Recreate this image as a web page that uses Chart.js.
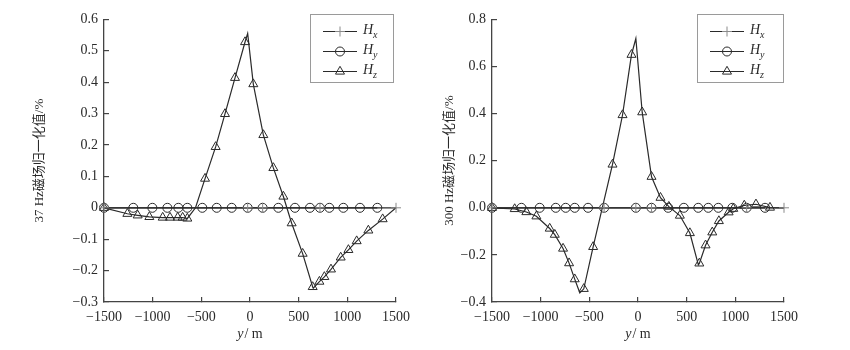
<!DOCTYPE html>
<html><head><meta charset="utf-8">
<script src="https://cdn.jsdelivr.net/npm/chart.js@4/dist/chart.umd.min.js"></script>
<style>
body{margin:0;background:#fff;width:850px;height:350px;overflow:hidden;position:relative}
.c{position:absolute;top:0;width:425px;height:350px}
</style></head><body>
<div class="c" style="left:0"><canvas id="c1" width="425" height="350"></canvas></div>
<div class="c" style="left:425px"><canvas id="c2" width="425" height="350"></canvas></div>
<script>
// ---------- data ----------
const xTickValues = [-1500, -1000, -500, 0, 500, 1000, 1500];
const seriesNames = ['x', 'y', 'z']; // H_x, H_y, H_z

// 37 Hz (left)
const leftTitle = '37 Hz磁场归一化值/%';
const leftYTicks = [-0.3, -0.2, -0.1, 0, 0.1, 0.2, 0.3, 0.4, 0.5, 0.6];
const leftHxX = [-1500, -24, 130, 719, 1500];
const leftHxY = [0, 0, 0, 0, 0];
const leftHyX = [-1500, -1199, -1003, -849, -736, -644, -490, -342, -188, -24, 130, 291, 462, 616, 719, 815, 959, 1130, 1308];
const leftHyY = [0, 0, 0, 0, 0, 0, 0, 0, 0, 0, 0, 0, 0, 0, 0, 0, 0, 0, 0];
const leftHzX = [-1500, -1260, -1154, -1034, -897, -822, -743, -692, -644, -462, -353, -257, -154, -51, 34, 137, 240, 343, 428, 541, 644, 713, 764, 832, 932, 1011, 1096, 1216, 1363];
const leftHzY = [0, -0.019, -0.024, -0.029, -0.031, -0.031, -0.031, -0.031, -0.034, 0.093, 0.194, 0.299, 0.414, 0.528, 0.394, 0.232, 0.127, 0.036, -0.049, -0.146, -0.252, -0.235, -0.220, -0.196, -0.158, -0.134, -0.106, -0.072, -0.036];
const leftHzCurveX = [-560, -24, 650, 1500];   // unmarked turning points of the curve
const leftHzCurveY = [0.0, 0.555, -0.256, 0];

// 300 Hz (right)
const rightTitle = '300 Hz磁场归一化值/%';
const rightYTicks = [-0.4, -0.2, 0, 0.2, 0.4, 0.6, 0.8];
const rightHxX = [-1500, -348, -22, 139, 1116, 1500];
const rightHxY = [0, 0, 0, 0, 0, 0];
const rightHyX = [-1500, -1198, -1010, -845, -743, -650, -513, -348, -22, 139, 310, 471, 619, 722, 825, 969, 1116, 1305];
const rightHyY = [0, 0, 0, 0, 0, 0, 0, 0, 0, 0, 0, 0, 0, 0, 0, 0, 0, 0];
const rightHzX = [-1500, -1267, -1147, -1044, -907, -855, -770, -708, -650, -557, -461, -262, -159, -67, 43, 139, 231, 317, 430, 533, 630, 694, 763, 831, 931, 979, 1092, 1212, 1356];
const rightHzY = [0, -0.005, -0.018, -0.036, -0.088, -0.114, -0.173, -0.235, -0.303, -0.344, -0.166, 0.184, 0.394, 0.650, 0.406, 0.132, 0.043, 0.005, -0.033, -0.107, -0.236, -0.159, -0.104, -0.056, -0.019, -0.004, 0.010, 0.015, 0.001];
const rightHzCurveX = [-598, -22, 620, 1500];
const rightHzCurveY = [-0.361, 0.719, -0.242, 0];

// ---------- helpers ----------
const pts = (xs, ys) => xs.map((x, i) => ({x, y: ys[i]}));
const merged = (xs, ys, cx, cy) => pts(xs, ys).concat(pts(cx, cy)).sort((a, b) => a.x - b.x);
const minus = s => String(s).replace('-', '\u2212');
const SERIF = '"Liberation Serif", "Times New Roman", serif';
const INK = '#2a2a2a';

function drawMarker(ctx, style, x, y, r) {
  ctx.beginPath();
  if (style === 'circle') {
    ctx.arc(x, y, r, 0, Math.PI * 2);
  } else if (style === 'triangle') {
    ctx.moveTo(x, y - r);
    ctx.lineTo(x + r * Math.sin(Math.PI * 2 / 3), y - r * Math.cos(Math.PI * 2 / 3));
    ctx.lineTo(x + r * Math.sin(Math.PI * 4 / 3), y - r * Math.cos(Math.PI * 4 / 3));
    ctx.closePath();
  } else if (style === 'cross') {
    ctx.moveTo(x, y - r); ctx.lineTo(x, y + r);
    ctx.moveTo(x - r, y); ctx.lineTo(x + r, y);
  }
  ctx.stroke();
}

const decoPlugin = {
  id: 'deco',
  afterDraw(chart, args, opts) {
    const ctx = chart.ctx;
    const ca = chart.chartArea;
    ctx.save();
    // x-axis title: italic y / m
    ctx.fillStyle = INK;
    ctx.textBaseline = 'middle';
    const fi = 'italic 14px ' + SERIF, fr = '14px ' + SERIF;
    ctx.font = fi; const w1 = ctx.measureText('y').width;
    ctx.font = fr; const w2 = ctx.measureText('/ m').width;
    const cx = (ca.left + ca.right) / 2, ty = opts.titleY;
    let x0 = cx - (w1 + w2 + 1) / 2;
    ctx.font = fi; ctx.textAlign = 'left'; ctx.fillText('y', x0, ty);
    ctx.font = fr; ctx.fillText('/ m', x0 + w1 + 1, ty);
    // legend
    const b = opts.box;
    ctx.fillStyle = '#fff';
    ctx.fillRect(b.x, b.y, b.w, b.h);
    ctx.strokeStyle = '#9a9a9a'; ctx.lineWidth = 1;
    ctx.strokeRect(b.x + 0.5, b.y + 0.5, b.w, b.h);
    const rows = [
      {style: 'cross', r: 5, color: '#8a8a8a', sub: seriesNames[0]},
      {style: 'circle', r: 4.5, color: INK, sub: seriesNames[1]},
      {style: 'triangle', r: 5.2, color: INK, sub: seriesNames[2]}
    ];
    rows.forEach((row, i) => {
      const y = b.y + 17 + i * 20;
      ctx.strokeStyle = INK; ctx.lineWidth = 1.2;
      ctx.beginPath(); ctx.moveTo(b.x + 13, y + 0.5); ctx.lineTo(b.x + 47, y + 0.5); ctx.stroke();
      ctx.strokeStyle = row.color; ctx.lineWidth = 1;
      drawMarker(ctx, row.style, b.x + 30, y + 0.5, row.r);
      ctx.fillStyle = INK;
      ctx.font = 'italic 14px ' + SERIF; ctx.textAlign = 'left';
      ctx.fillText('H', b.x + 53, y - 1);
      const hw = ctx.measureText('H').width;
      ctx.font = 'italic 10px ' + SERIF;
      ctx.fillText(row.sub, b.x + 53 + hw, y + 4);
    });
    ctx.restore();
  }
};

function build(id, cfg) {
  const datasets = [
    {label: 'Hx', data: pts(cfg.hxX, cfg.hxY), borderColor: INK, borderWidth: 1.2,
     pointStyle: 'cross', pointRadius: 5, pointBorderColor: '#8a8a8a', pointBorderWidth: 1, clip: false},
    {label: 'Hy', data: pts(cfg.hyX, cfg.hyY), borderColor: INK, borderWidth: 1.2,
     pointStyle: 'circle', pointRadius: 4.5, pointBackgroundColor: 'rgba(0,0,0,0)', pointBorderColor: INK, pointBorderWidth: 1, clip: false},
    {label: 'Hz', data: merged(cfg.hzX, cfg.hzY, cfg.hzCX, cfg.hzCY), borderColor: INK, borderWidth: 1.2,
     pointRadius: 0, clip: false},
    {label: 'Hz', data: pts(cfg.hzX, cfg.hzY), showLine: false,
     pointStyle: 'triangle', pointRadius: 5.2, pointBackgroundColor: 'rgba(0,0,0,0)', pointBorderColor: INK, pointBorderWidth: 1, clip: false}
  ];
  return new Chart(document.getElementById(id), {
    type: 'scatter',
    data: {datasets},
    options: {
      responsive: false, animation: false, devicePixelRatio: 1,
      showLine: true,
      layout: {padding: {top: cfg.padTop, right: cfg.padRight, left: 0, bottom: 0}},
      plugins: {legend: {display: false}, tooltip: {enabled: false},
        deco: {box: cfg.box, titleY: 334}},
      elements: {line: {tension: 0}},
      scales: {
        x: {
          type: 'linear', min: -1500, max: 1500,
          afterBuildTicks: s => { s.ticks = xTickValues.map(v => ({value: v})); },
          afterFit: s => { s.height = 48; },
          grid: {drawOnChartArea: false, tickLength: -5, color: '#444', lineWidth: 1.2},
          border: {display: true, color: '#444', width: 1.3},
          ticks: {padding: 12, color: INK, font: {family: SERIF, size: 14}, maxRotation: 0,
                  callback: v => minus(v)}
        },
        y: {
          type: 'linear', min: cfg.yTicks[0], max: cfg.yTicks[cfg.yTicks.length - 1],
          afterBuildTicks: s => { s.ticks = cfg.yTicks.map(v => ({value: v})); },
          afterFit: s => { s.width = cfg.yWidth; },
          grid: {drawOnChartArea: false, tickLength: -5, color: '#444', lineWidth: 1.2},
          border: {display: true, color: '#444', width: 1.3},
          ticks: {padding: 11, color: INK, font: {family: SERIF, size: 14},
                  callback: cfg.fmt},
          title: {display: true, text: cfg.title, color: INK,
                  font: {family: '"Liberation Serif", "Noto Sans CJK SC", serif', size: 13},
                  padding: {top: cfg.titlePad, bottom: 0}}
        }
      }
    },
    plugins: [decoPlugin]
  });
}

build('c1', {
  hxX: leftHxX, hxY: leftHxY, hyX: leftHyX, hyY: leftHyY,
  hzX: leftHzX, hzY: leftHzY, hzCX: leftHzCurveX, hzCY: leftHzCurveY,
  yTicks: leftYTicks, title: leftTitle,
  fmt: v => Math.abs(v) < 1e-9 ? '0' : minus(v.toFixed(1)),
  padTop: 11, padRight: 29, yWidth: 104, titlePad: 32,
  box: {x: 310, y: 14, w: 83, h: 68}
});
build('c2', {
  hxX: rightHxX, hxY: rightHxY, hyX: rightHyX, hyY: rightHyY,
  hzX: rightHzX, hzY: rightHzY, hzCX: rightHzCurveX, hzCY: rightHzCurveY,
  yTicks: rightYTicks, title: rightTitle,
  fmt: v => Math.abs(v) < 1e-9 ? '0.0' : minus(v.toFixed(1)),
  padTop: 10, padRight: 66, yWidth: 67, titlePad: 17,
  box: {x: 272, y: 14, w: 86, h: 68}
});
</script>
</body></html>
